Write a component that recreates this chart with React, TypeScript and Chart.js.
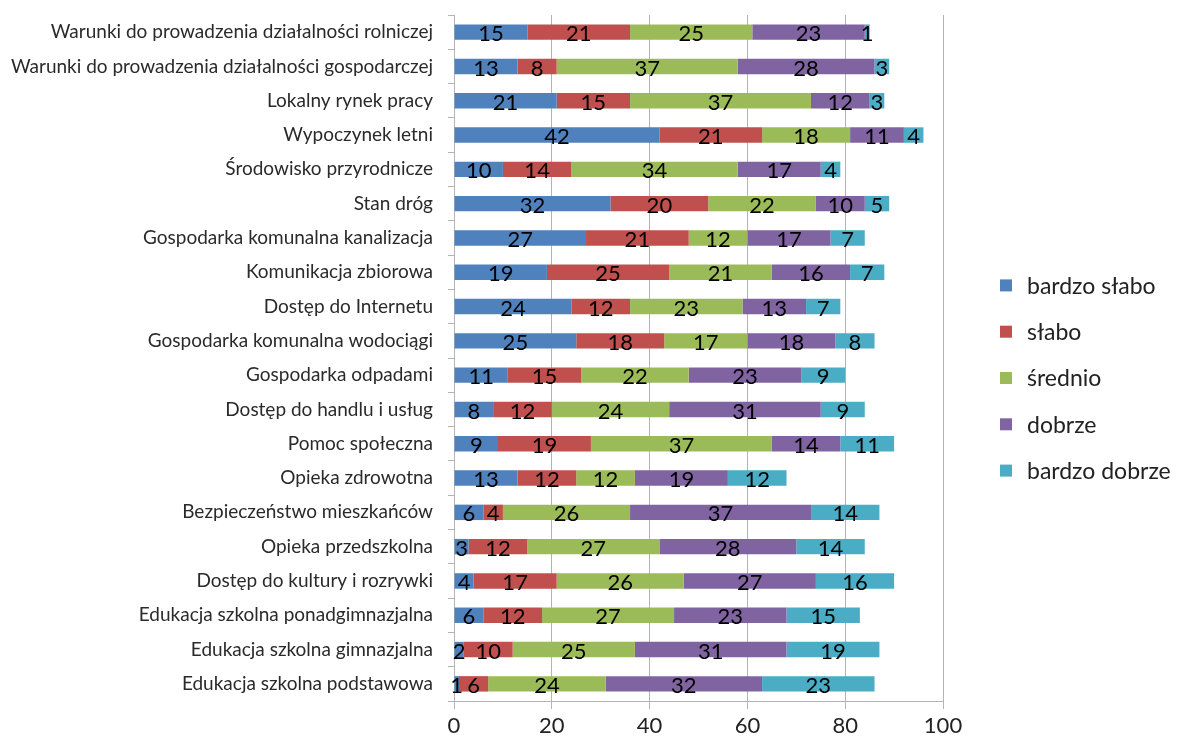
import React, { useEffect, useRef } from "react";
import { Chart, registerables } from "chart.js";

Chart.register(...registerables);

const categories = [
  "Warunki do prowadzenia działalności rolniczej",
  "Warunki do prowadzenia działalności gospodarczej",
  "Lokalny rynek pracy",
  "Wypoczynek letni",
  "Środowisko przyrodnicze",
  "Stan dróg",
  "Gospodarka komunalna kanalizacja",
  "Komunikacja zbiorowa",
  "Dostęp do Internetu",
  "Gospodarka komunalna wodociągi",
  "Gospodarka odpadami",
  "Dostęp do handlu i usług",
  "Pomoc społeczna",
  "Opieka zdrowotna",
  "Bezpieczeństwo mieszkańców",
  "Opieka przedszkolna",
  "Dostęp do kultury i rozrywki",
  "Edukacja szkolna ponadgimnazjalna",
  "Edukacja szkolna gimnazjalna",
  "Edukacja szkolna podstawowa",
];

const seriesNames = ["bardzo słabo", "słabo", "średnio", "dobrze", "bardzo dobrze"];
const seriesColors = ["#4F81BD", "#C0504D", "#9BBB59", "#8064A2", "#4BACC6"];

const bardzoSlabo = [15, 13, 21, 42, 10, 32, 27, 19, 24, 25, 11, 8, 9, 13, 6, 3, 4, 6, 2, 1];
const slabo = [21, 8, 15, 21, 14, 20, 21, 25, 12, 18, 15, 12, 19, 12, 4, 12, 17, 12, 10, 6];
const srednio = [25, 37, 37, 18, 34, 22, 12, 21, 23, 17, 22, 24, 37, 12, 26, 27, 26, 27, 25, 24];
const dobrze = [23, 28, 12, 11, 17, 10, 17, 16, 13, 18, 23, 31, 14, 19, 37, 28, 27, 23, 31, 32];
const bardzoDobrze = [1, 3, 3, 4, 4, 5, 7, 7, 7, 8, 9, 9, 11, 12, 14, 14, 16, 15, 19, 23];

const xTicks = [0, 20, 40, 60, 80, 100];

const FONT = "Lato";
const GRID = "#b4b4b4";

const barLabels = {
  id: "barLabels",
  afterDatasetsDraw(chart: any) {
    const ctx = chart.ctx;
    ctx.save();
    ctx.font = `22px ${FONT}`;
    ctx.fillStyle = "#000";
    ctx.textAlign = "center";
    ctx.textBaseline = "middle";
    chart.data.datasets.forEach((ds: any, di: number) => {
      const meta = chart.getDatasetMeta(di);
      meta.data.forEach((el: any, i: number) => {
        const v = ds.data[i];
        const cx = (el.x + el.base) / 2;
        ctx.fillText(String(v), cx, el.y + 2);
      });
    });
    ctx.restore();
  },
};

const sideLegend = {
  id: "sideLegend",
  afterDraw(chart: any) {
    const ctx = chart.ctx;
    ctx.save();
    ctx.font = `23px ${FONT}`;
    ctx.textBaseline = "middle";
    ctx.textAlign = "left";
    const n = chart.data.datasets.length;
    const step = 46.3;
    const center = 378;
    chart.data.datasets.forEach((ds: any, i: number) => {
      const y = center + (i - (n - 1) / 2) * step;
      ctx.fillStyle = ds.backgroundColor;
      ctx.fillRect(1000, y - 6, 12, 12);
      ctx.fillStyle = "#222";
      ctx.fillText(ds.label, 1027, y + 1);
    });
    ctx.restore();
  },
};

export default function App() {
  const ref = useRef<HTMLCanvasElement>(null);
  useEffect(() => {
    const values = [bardzoSlabo, slabo, srednio, dobrze, bardzoDobrze];
    const chart = new Chart(ref.current as HTMLCanvasElement, {
      type: "bar",
      data: {
        labels: categories,
        datasets: values.map((d, i) => ({
          label: seriesNames[i],
          data: d,
          backgroundColor: seriesColors[i],
          borderWidth: 0,
          barPercentage: 0.45,
          categoryPercentage: 1,
        })),
      },
      options: {
        indexAxis: "y",
        responsive: false,
        animation: false,
        devicePixelRatio: 1,
        layout: { padding: { top: 15, right: 235, left: 0, bottom: 0 } },
        plugins: {
          legend: { display: false },
          tooltip: { enabled: false },
        },
        scales: {
          x: {
            stacked: true,
            min: 0,
            max: 100,
            afterFit: (s: any) => {
              s.height = 44;
            },
            afterBuildTicks: (s: any) => {
              s.ticks = xTicks.map((v) => ({ value: v }));
            },
            grid: {
              color: GRID,
              lineWidth: 1,
              drawTicks: true,
              tickLength: 8,
              tickColor: GRID,
            },
            border: { display: true, color: GRID },
            ticks: {
              color: "#222",
              font: { family: FONT, size: 22 },
              padding: 4,
              maxRotation: 0,
            },
          },
          y: {
            stacked: true,
            afterFit: (s: any) => {
              s.width = 454;
              s.paddingTop = 0;
              s.paddingBottom = 0;
            },
            grid: {
              drawOnChartArea: false,
              drawTicks: true,
              tickLength: 6,
              offset: true,
              color: GRID,
            },
            border: { display: true, color: GRID },
            ticks: {
              color: "#2a2a2a",
              font: { family: FONT, size: 19 },
              padding: 15,
              autoSkip: false,
            },
          },
        },
      },
      plugins: [barLabels, sideLegend],
    });
    return () => chart.destroy();
  }, []);
  return (
    <div style={{ position: "absolute", left: 0, top: 0, width: 1178, height: 745 }}>
      <canvas ref={ref} width={1178} height={745} style={{ display: "block" }} />
    </div>
  );
}
